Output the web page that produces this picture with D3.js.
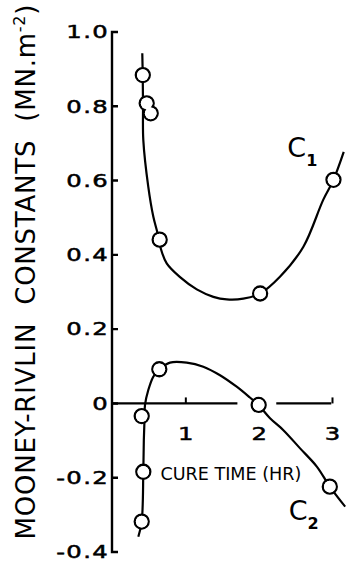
<!DOCTYPE html>
<html>
<head>
<meta charset="utf-8">
<script src="https://cdn.jsdelivr.net/npm/d3@7"></script>
<style>
  body { margin: 0; background: #fff; color: #000; }
  svg { display: block; background: #fff; }
  text { font-family: "DejaVu Sans", sans-serif; fill: #000; }
</style>
</head>
<body>
<svg width="346" height="563"></svg>
<script>
// axis values
const yTicks = [-0.4, -0.2, 0, 0.2, 0.4, 0.6, 0.8, 1.0]
const yTickLabels = ['-0.4', '-0.2', '0', '0.2', '0.4', '0.6', '0.8', '1.0']
const xTicks = [1, 2, 3]
const xTickLabels = ['1', '2', '3']
// the zero line is broken where the C2 curve crosses it near 2 hr
const zeroLineParts = [[0, 1.71], [2.24, 2.99]]

// measured points (cure time hr, constant MN/m2)
const c1Points = [[0.42, 0.884], [0.473, 0.808], [0.528, 0.781], [0.65, 0.441], [2.02, 0.296], [3.02, 0.602]]
const c2Points = [[0.405, -0.318], [0.427, -0.184], [0.405, -0.034], [0.645, 0.092], [2.0, -0.004], [2.97, -0.224]]

// hand drawn curves
const c1Curve = [
  [0.413, 0.943], [0.419, 0.884], [0.423, 0.804], [0.427, 0.709], [0.495, 0.583],
  [0.563, 0.503], [0.628, 0.453], [0.664, 0.418], [0.746, 0.377], [0.928, 0.34],
  [1.156, 0.307], [1.382, 0.287], [1.565, 0.28], [1.79, 0.282], [2.02, 0.296],
  [2.29, 0.341], [2.61, 0.422], [2.88, 0.548], [3.02, 0.602], [3.16, 0.677]
]
const c2Curve = [
  [0.359, -0.359], [0.405, -0.318], [0.427, -0.184], [0.434, -0.099], [0.443, -0.045],
  [0.45, -0.004], [0.495, 0.036], [0.563, 0.072], [0.645, 0.092], [0.791, 0.11],
  [1.019, 0.11], [1.245, 0.099], [1.473, 0.076], [1.7, 0.045], [1.88, 0.016],
  [1.996, -0.004], [2.155, -0.04], [2.337, -0.072], [2.565, -0.121], [2.793, -0.17],
  [2.97, -0.224], [3.18, -0.278]
]

// text labels placed in data units
const curveLabels = [
  { name: 'C', sub: '1', at: [2.39, 0.663] },
  { name: 'C', sub: '2', at: [2.41, -0.314] }
]
const xTitle = { text: 'CURE TIME (HR)', at: [0.66, -0.206] }
const yTitle = ['MOONEY-RIVLIN  CONSTANTS  (MN.m', '-2', ')']

const svg = d3.select('svg')

const x = d3.scaleLinear().domain([0, 3]).range([112, 332])
const y = d3.scaleLinear().domain([-0.4, 1.0]).range([552, 32])

const numScale = 1.35

// y axis labels from d3
const yAxis = d3.axisLeft(y)
  .tickValues(yTicks)
  .tickFormat((d, i) => yTickLabels[i])
  .tickSize(0)
  .tickPadding(3)

const gy = svg.append('g')
  .attr('transform', `translate(${x(0)},0)`)
  .call(yAxis)

gy.select('.domain').remove()
gy.selectAll('.tick line').remove()
gy.selectAll('.tick text')
  .attr('font-size', 18)
  .attr('letter-spacing', 1)
  .attr('stroke', '#000')
  .attr('stroke-width', 0.5)
  .attr('x', -3 / numScale)
  .attr('transform', `scale(${numScale},1)`)

// x ticks point up from the zero line
const xAxis = d3.axisBottom(x)
  .tickValues(xTicks)
  .tickFormat((d, i) => xTickLabels[i])
  .tickSizeInner(-6)
  .tickSizeOuter(0)
  .tickPadding(24)

const gx = svg.append('g')
  .attr('transform', `translate(0,${y(0)})`)
  .call(xAxis)

gx.select('.domain').remove()
gx.selectAll('.tick line')
  .attr('stroke', '#000')
  .attr('stroke-width', 2)
gx.selectAll('.tick text')
  .attr('font-size', 18)
  .attr('stroke', '#000')
  .attr('stroke-width', 0.5)
  .attr('transform', `scale(${numScale},1)`)

// curves
const line = d3.line()
  .x(d => x(d[0]))
  .y(d => y(d[1]))
  .curve(d3.curveCatmullRom.alpha(0.5))

svg.append('g')
  .selectAll('path')
  .data([c1Curve, c2Curve])
  .join('path')
  .attr('d', line)
  .attr('fill', 'none')
  .attr('stroke', '#000')
  .attr('stroke-width', 2.2)

// points: draw outlines then fills so overlapping circles merge
const allPoints = [...c1Points, ...c2Points]
const r = 7

svg.append('g')
  .selectAll('circle')
  .data(allPoints)
  .join('circle')
  .attr('cx', d => x(d[0]))
  .attr('cy', d => y(d[1]))
  .attr('r', r)
  .attr('fill', '#fff')
  .attr('stroke', '#000')
  .attr('stroke-width', 2.3)

svg.append('g')
  .selectAll('circle')
  .data(allPoints)
  .join('circle')
  .attr('cx', d => x(d[0]))
  .attr('cy', d => y(d[1]))
  .attr('r', r - 1.15)
  .attr('fill', '#fff')

// C1 / C2 labels
const lab = svg.append('g')
  .selectAll('text')
  .data(curveLabels)
  .join('text')
  .attr('x', d => x(d.at[0]))
  .attr('y', d => y(d.at[1]))
  .attr('font-size', 27)

lab.append('tspan').text(d => d.name)
lab.append('tspan')
  .attr('dy', 9)
  .attr('font-size', 16)
  .attr('font-weight', 'bold')
  .text(d => d.sub)

// x title
svg.append('text')
  .attr('x', x(xTitle.at[0]))
  .attr('y', y(xTitle.at[1]))
  .attr('font-size', 18)
  .attr('textLength', 141)
  .attr('lengthAdjust', 'spacingAndGlyphs')
  .text(xTitle.text)

// y title, rotated
const yt = svg.append('text')
  .attr('transform', 'translate(35,272) rotate(-90)')
  .attr('text-anchor', 'middle')
  .attr('font-size', 26)
  .style('white-space', 'pre')
  .attr('textLength', 535)
  .attr('lengthAdjust', 'spacing')

yt.append('tspan').text(yTitle[0])
yt.append('tspan').attr('dy', -10).attr('font-size', 16).text(yTitle[1])
yt.append('tspan').attr('dy', 10).text(yTitle[2])

// spine with inward ticks and bracket ends, then the broken zero line
const spine = d3.path()
spine.moveTo(x(0) + 6, y(-0.4))
spine.lineTo(x(0), y(-0.4))
spine.lineTo(x(0), y(1.0))
spine.lineTo(x(0) + 6, y(1.0))
yTicks.forEach(v => {
  spine.moveTo(x(0), y(v))
  spine.lineTo(x(0) + 6, y(v))
})

svg.append('path')
  .attr('d', spine.toString())
  .attr('fill', 'none')
  .attr('stroke', '#000')
  .attr('stroke-width', 2.4)

svg.append('g')
  .selectAll('line')
  .data(zeroLineParts)
  .join('line')
  .attr('x1', d => x(d[0]))
  .attr('x2', d => x(d[1]))
  .attr('y1', y(0))
  .attr('y2', y(0))
  .attr('stroke', '#000')
  .attr('stroke-width', 2.2)
</script>
</body>
</html>
